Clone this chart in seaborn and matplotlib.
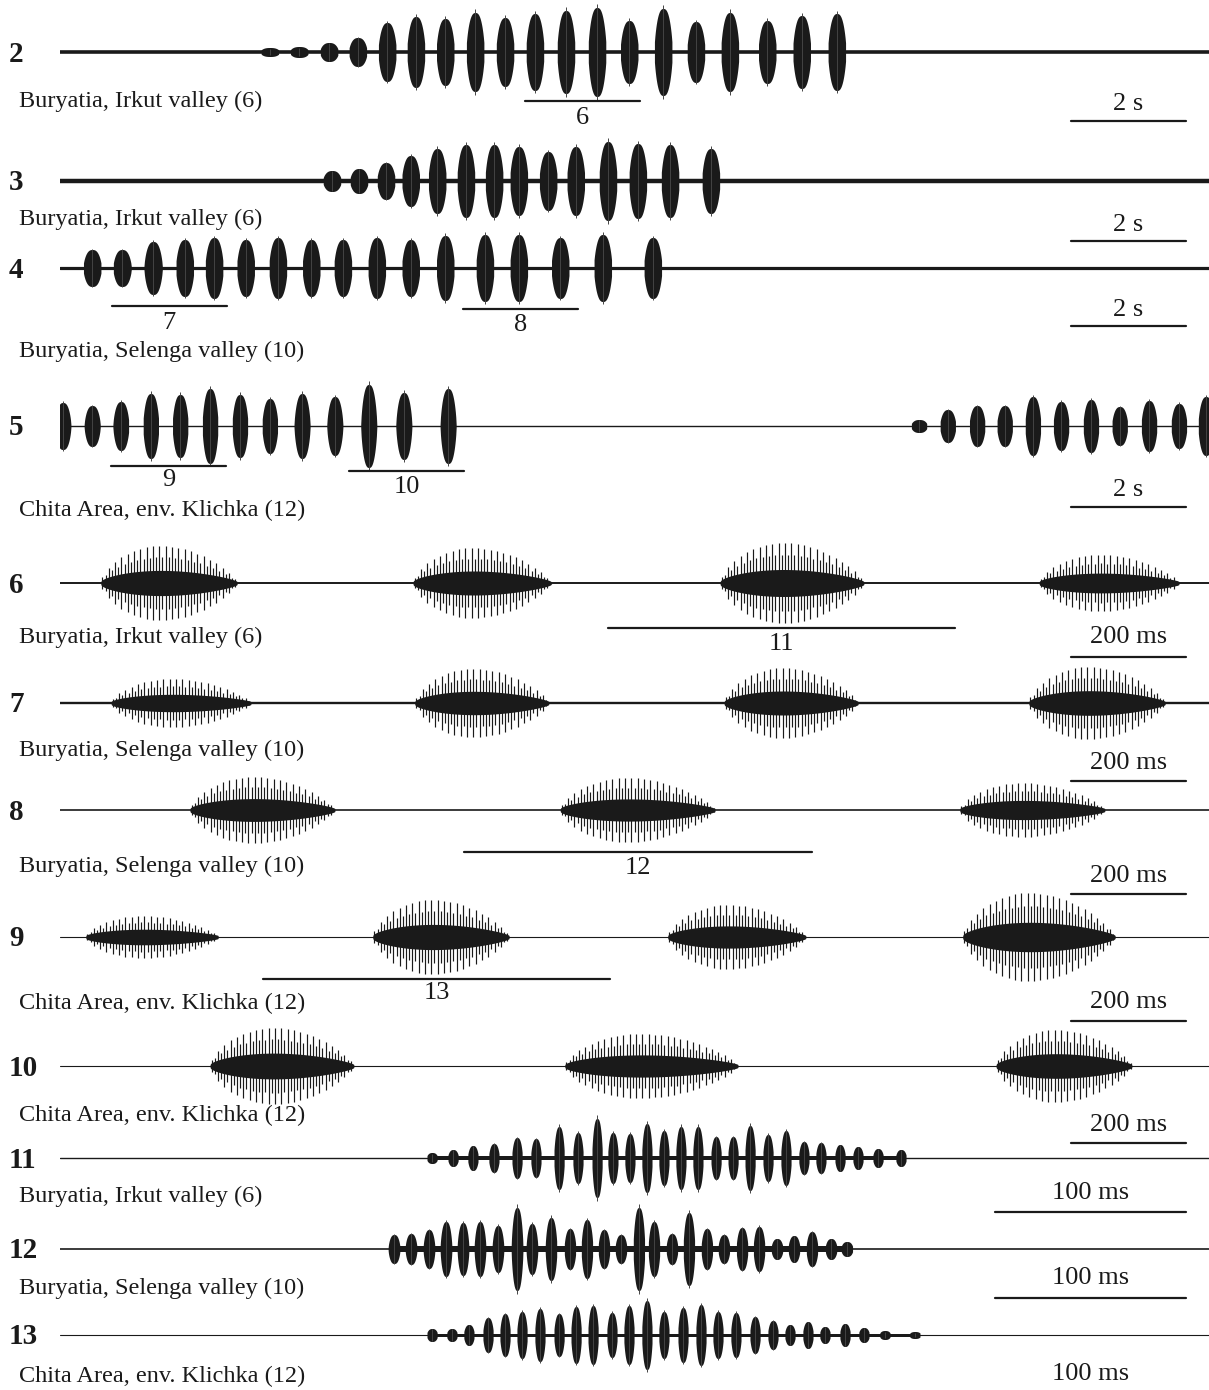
import numpy as np
import matplotlib.pyplot as plt
import seaborn as sns

sns.set_theme(style="white")
plt.rcParams['font.family'] = ['Liberation Serif', 'DejaVu Serif']

W, H = 1209, 1390
INK = '#1a1a1a'

# ---- oscillograms 2-5 (time in s, amplitude in a.u.) ----
row2_t = [3.65, 4.16, 4.68, 5.18, 5.69, 6.19, 6.70, 7.22, 7.74, 8.26, 8.80, 9.34,
          9.90, 10.49, 11.06, 11.65, 12.30, 12.90, 13.51]
row2_a = [3, 4, 8, 13, 28, 34, 32, 38, 33, 37, 40, 43, 30, 42, 29, 38, 30, 35, 37]

row3_t = [4.73, 5.20, 5.67, 6.10, 6.56, 7.06, 7.55, 7.98, 8.49, 8.97, 9.53, 10.05,
          10.61, 11.32]
row3_a = [9, 11, 17, 24, 31, 35, 35, 33, 28, 33, 38, 36, 35, 31]

row4_t = [0.56, 1.08, 1.62, 2.17, 2.68, 3.23, 3.79, 4.37, 4.92, 5.51, 6.10, 6.70,
          7.39, 7.98, 8.70, 9.44, 10.31]
row4_a = [17, 17, 25, 27, 29, 27, 29, 27, 27, 29, 27, 31, 32, 32, 29, 32, 29]

row5_t = [0.05, 0.56, 1.06, 1.58, 2.09, 2.61, 3.13, 3.65, 4.21, 4.78, 5.37, 5.98,
          6.75, 14.94, 15.44, 15.95, 16.43, 16.92, 17.41, 17.93, 18.43, 18.94,
          19.46, 19.93]
row5_a = [22, 19, 23, 31, 30, 36, 30, 26, 31, 28, 40, 32, 36, 5, 15, 19, 19, 28,
          23, 25, 18, 24, 21, 28]

# ---- oscillograms 6-10 (syllable on/off in ms, peak amplitude) ----
row6_on = [71, 614, 1148, 1703]
row6_off = [308, 854, 1398, 1946]
row6_a = [37, 35, 40, 28]

row7_on = [89, 617, 1155, 1685]
row7_off = [332, 850, 1388, 1922]
row7_a = [24, 34, 35, 36]

row8_on = [226, 870, 1565]
row8_off = [478, 1139, 1817]
row8_a = [33, 32, 27]

row9_on = [45, 544, 1057, 1570]
row9_off = [275, 781, 1297, 1835]
row9_a = [21, 37, 32, 44]

row10_on = [261, 878, 1628]
row10_off = [511, 1179, 1864]
row10_a = [38, 32, 36]

# ---- oscillograms 11-13 (pulse centres in ms, amplitude) ----
row11_t = [194.8, 205.8, 216.2, 227.2, 239.3, 249.2, 261.3, 271.2, 281.2, 289.5,
           298.4, 307.3, 316.2, 325.1, 334.0, 343.5, 352.4, 361.3, 370.7, 380.1,
           389.5, 398.4, 408.4, 417.8, 428.3, 440.3]
row11_a = [4, 7, 11, 13, 19, 18, 30, 24, 38, 24, 23, 33, 26, 30, 30, 20, 20, 31,
           22, 26, 15, 14, 12, 10, 8, 7]

row12_t = [174.9, 183.8, 193.2, 202.1, 211.0, 219.9, 229.3, 239.3, 247.1, 257.1,
           267.0, 275.9, 284.8, 293.7, 303.1, 311.0, 320.4, 329.3, 338.7, 347.6,
           357.1, 366.0, 375.4, 384.3, 393.7, 403.7, 412.0]
row12_a = [13, 14, 18, 26, 25, 26, 22, 40, 24, 30, 19, 28, 18, 13, 40, 26, 14, 35,
           19, 13, 20, 21, 9, 12, 16, 9, 6]

row13_t = [194.8, 205.2, 214.1, 224.1, 233.0, 241.9, 251.3, 261.3, 270.2, 279.1,
           289.0, 297.9, 307.3, 316.2, 326.2, 335.6, 344.5, 353.9, 363.9, 373.3,
           382.2, 391.6, 400.5, 411.0, 420.9, 431.9, 447.6]
row13_a = [5, 5, 9, 16, 20, 22, 25, 20, 27, 28, 21, 28, 33, 22, 26, 29, 22, 21, 17,
           13, 9, 12, 7, 10, 6, 3, 2]

row_names = ['2', '3', '4', '5', '6', '7', '8', '9', '10', '11', '12', '13']
places = ['Buryatia, Irkut valley (6)', 'Buryatia, Irkut valley (6)',
          'Buryatia, Selenga valley (10)', 'Chita Area, env. Klichka (12)',
          'Buryatia, Irkut valley (6)', 'Buryatia, Selenga valley (10)',
          'Buryatia, Selenga valley (10)', 'Chita Area, env. Klichka (12)',
          'Chita Area, env. Klichka (12)', 'Buryatia, Irkut valley (6)',
          'Buryatia, Selenga valley (10)', 'Chita Area, env. Klichka (12)']

# layout (pixels in the page)
baseline_y = [52, 181, 268, 426, 583, 703, 810, 937, 1066, 1158, 1249, 1335]
place_y = [101, 219, 351, 510, 637, 750, 866, 1003, 1115, 1196, 1288, 1376]
base_lw = [2.6, 3.2, 2.3, 1.0, 1.4, 1.7, 1.2, 0.8, 0.8, 1.0, 1.2, 0.8]
# scale bar label / bar offset below baseline (px)
scale_off = [(-52, -69), (-44, -60), (-42, -58), (-64, -81), (-54, -74), (-60, -78),
             (-66, -84), (-65, -84), (-59, -77), (-35, -54), (-29, -49), (-39, None)]
# fragment bars: row index -> list of (start, label, bar offset, label offset)
fragments = {0: [(8.09, '6', -49, -66)],
             2: [(0.90, '7', -38, -55), (7.01, '8', -41, -57)],
             3: [(0.89, '9', -40, -54), (5.03, '10', -45, -61)],
             4: [(953, '11', -45, -61)],
             6: [(703, '12', -42, -58)],
             7: [(353, '13', -42, -56)]}

LEFT, RIGHT = 60, 1209
HALF = 55


def fx(x):
    return x / W


def fy(y):
    return 1 - y / H


def spindles(ax, centres, amps, hw, bed=0):
    if bed:
        ax.fill_between([centres[0], centres[-1]], -bed, bed, color=INK, lw=0)
    for c, a in zip(centres, amps):
        t = np.linspace(c - hw, c + hw, 41)
        u = (t - c) / hw
        env = a * (1 - np.abs(u) ** 2.6) ** 0.75 + 1.5
        ax.fill_between(t, -env, env, color=INK, lw=0)
        ax.vlines(c, -a * 1.12, a * 1.12, color='#444444', lw=0.7)


def pulsed(ax, ons, offs, amps, period):
    for on, off, a in zip(ons, offs, amps):
        t = np.linspace(on, off, 200)
        u = (t - on) / (off - on)
        env = a * np.sin(np.pi * u ** 0.85) ** 0.7
        core = 0.3 * env + 1.5
        ax.fill_between(t, -core, core, color=INK, lw=0)
        tp = np.arange(on + period / 2, off, period)
        up = (tp - on) / (off - on)
        ep = a * np.sin(np.pi * up ** 0.85) ** 0.7
        ep[1::2] *= 0.7
        ax.vlines(tp, -ep, ep, color=INK, lw=0.85)


fig = plt.figure(figsize=(W / 100, H / 100), dpi=100)

groups = ['A'] * 4 + ['B'] * 5 + ['C'] * 3
xmax = {'A': (RIGHT - LEFT) / 57.5, 'B': (RIGHT - LEFT) / 0.575, 'C': (RIGHT - LEFT) / 1.91}
scale = {'A': (17.58, 2.0, '2 s'), 'B': (1758, 200, '200 ms'), 'C': (489.5, 100, '100 ms')}
frag_len = {'A': 2.0, 'B': 604}

axes = []
for i, yb in enumerate(baseline_y):
    ax = fig.add_axes([fx(LEFT), fy(yb + HALF), fx(RIGHT - LEFT), 2 * HALF / H])
    g = groups[i]
    ax.set_xlim(0, xmax[g])
    ax.set_ylim(-HALF, HALF)
    ax.axis('off')
    sns.lineplot(x=[0, xmax[g]], y=[0, 0], ax=ax, color=INK, lw=base_lw[i])
    axes.append(ax)

spindles(axes[0], row2_t, row2_a, 0.16)
spindles(axes[1], row3_t, row3_a, 0.16)
spindles(axes[2], row4_t, row4_a, 0.16)
spindles(axes[3], row5_t, row5_a, 0.14)
pulsed(axes[4], row6_on, row6_off, row6_a, 5.5)
pulsed(axes[5], row7_on, row7_off, row7_a, 5.5)
pulsed(axes[6], row8_on, row8_off, row8_a, 5.5)
pulsed(axes[7], row9_on, row9_off, row9_a, 5.5)
pulsed(axes[8], row10_on, row10_off, row10_a, 5.5)
spindles(axes[9], row11_t, row11_a, 2.8, bed=2)
spindles(axes[10], row12_t, row12_a, 3.1, bed=3)
spindles(axes[11], row13_t, row13_a, 2.8, bed=1.5)

for i, ax in enumerate(axes):
    g = groups[i]
    x0, length, lab = scale[g]
    ty, by = scale_off[i]
    ax.text(x0 + length / 2, ty, lab, ha='center', va='center', fontsize=19, color=INK)
    if by is not None:
        ax.plot([x0, x0 + length], [by, by], color=INK, lw=1.6, clip_on=False)
    for start, lab2, boff, toff in fragments.get(i, []):
        L = frag_len[g]
        ax.plot([start, start + L], [boff, boff], color=INK, lw=1.6, clip_on=False)
        ax.text(start + L / 2, toff, lab2, ha='center', va='center', fontsize=19, color=INK)

    fig.text(fx(9), fy(baseline_y[i] + 2), row_names[i], ha='left', va='center',
             fontsize=21, fontweight='bold', color=INK)
    fig.text(fx(19), fy(place_y[i]), places[i], ha='left', va='center',
             fontsize=17.5, color=INK)

fig.savefig('out.png', dpi=100, facecolor='white')
